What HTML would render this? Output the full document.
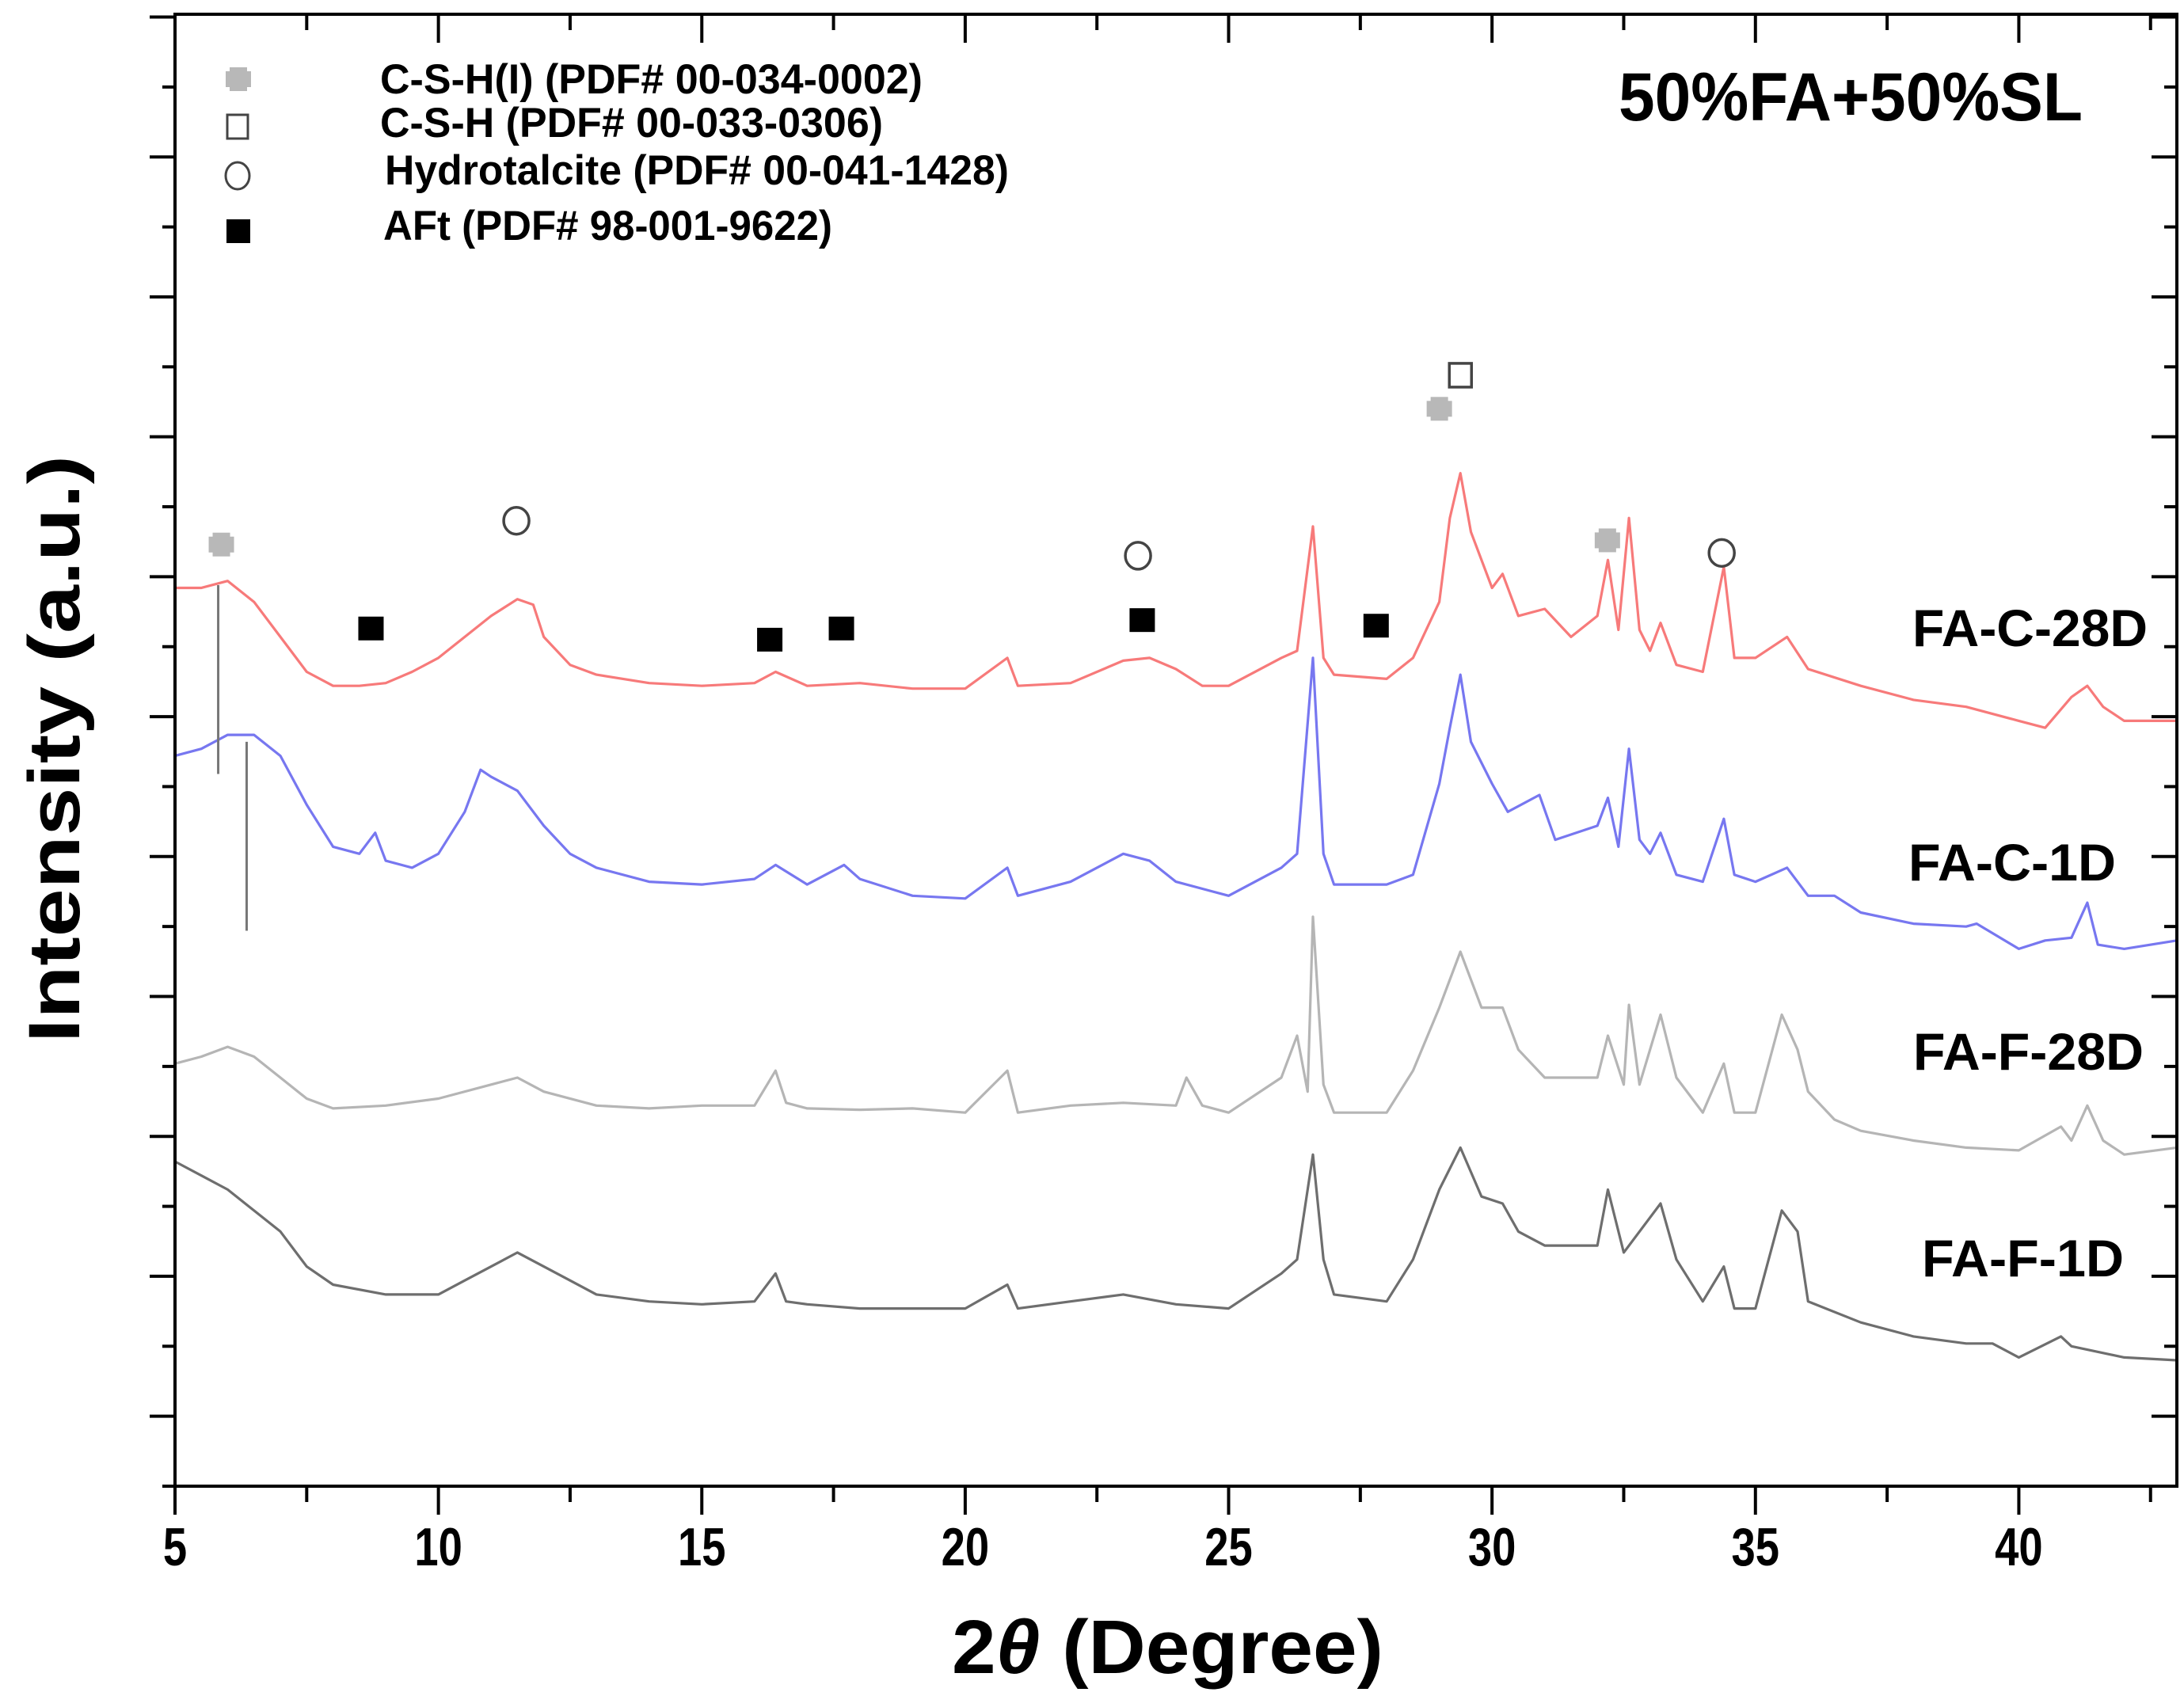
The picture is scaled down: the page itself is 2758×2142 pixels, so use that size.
<!DOCTYPE html>
<html><head><meta charset="utf-8"><style>
html,body{margin:0;padding:0;background:#fff;}
svg{display:block;}
text{font-family:"Liberation Sans",sans-serif;font-weight:bold;fill:#000;}
</style></head><body>
<svg id="chart" width="2758" height="2142" viewBox="0 0 2758 2142" xmlns="http://www.w3.org/2000/svg">
<g id="series"></g>
<g id="markers"></g>
<g id="axes"></g>
<g>
  <g>
    <g fill="#b8b8b8"><rect x="290" y="85" width="22" height="30"/><rect x="285" y="90" width="32" height="20"/></g>
    <text x="480" y="118" font-size="53" textLength="685" lengthAdjust="spacingAndGlyphs">C-S-H(I) (PDF# 00-034-0002)</text>
  </g>
  <g>
    <rect x="287" y="145" width="26" height="30" fill="none" stroke="#444" stroke-width="3"/>
    <text x="480" y="173" font-size="53" textLength="635" lengthAdjust="spacingAndGlyphs">C-S-H (PDF# 00-033-0306)</text>
  </g>
  <g>
    <ellipse cx="300" cy="222" rx="15" ry="17" fill="none" stroke="#444" stroke-width="3"/>
    <text x="486" y="233" font-size="53" textLength="788" lengthAdjust="spacingAndGlyphs">Hydrotalcite (PDF# 00-041-1428)</text>
  </g>
  <g>
    <rect x="286" y="277" width="30" height="30" fill="#000"/>
    <text x="484" y="303" font-size="53" textLength="567" lengthAdjust="spacingAndGlyphs">AFt (PDF# 98-001-9622)</text>
  </g>
</g>
<text x="2044" y="152" font-size="86" textLength="586" lengthAdjust="spacingAndGlyphs">50%FA+50%SL</text>
<text x="2415" y="816" font-size="66" textLength="297" lengthAdjust="spacingAndGlyphs">FA-C-28D</text>
<text x="2410" y="1112" font-size="66" textLength="262" lengthAdjust="spacingAndGlyphs">FA-C-1D</text>
<text x="2416" y="1351" font-size="66" textLength="291" lengthAdjust="spacingAndGlyphs">FA-F-28D</text>
<text x="2427" y="1612" font-size="66" textLength="255" lengthAdjust="spacingAndGlyphs">FA-F-1D</text>
<text transform="translate(100,946) rotate(-90)" text-anchor="middle" font-size="92" textLength="742" lengthAdjust="spacingAndGlyphs">Intensity (a.u.)</text>
<text x="1202" y="2113" font-size="96" textLength="545" lengthAdjust="spacingAndGlyphs">2<tspan font-style="italic">θ</tspan> (Degree)</text>
</svg>
<script>
// ---- data ----
const xTicks = [5,10,15,20,25,30,35,40];
const xTickLabels = ["5","10","15","20","25","30","35","40"];
const seriesNames = ["FA-C-28D","FA-C-1D","FA-F-28D","FA-F-1D"];
const seriesColors = ["#f77a7a","#7777f0","#b5b5b5","#6e6e6e"];
const redX = [5,5.5,6,6.5,7,7.5,8,8.5,9,9.5,10,10.5,11,11.5,11.8,12,12.5,13,14,15,16,16.4,17,18,19,20,20.8,21,22,23,23.5,24,24.5,25,26,26.3,26.6,26.8,27,28,28.5,29,29.2,29.4,29.6,30,30.2,30.5,31,31.5,32,32.2,32.4,32.6,32.8,33,33.2,33.5,34,34.4,34.6,35,35.6,36,37,38,39,40,40.5,41,41.3,41.6,42,43];
const redY = [642,642,647,632,607,582,572,572,574,582,592,607,622,634,630,607,587,580,574,572,574,582,572,574,570,570,592,572,574,590,592,584,572,572,592,597,686,592,580,577,592,632,692,724,682,642,652,622,627,607,622,662,612,692,612,597,617,587,582,657,592,592,607,584,572,562,557,547,542,564,572,557,547,547];
const blueX = [5,5.5,6,6.5,7,7.5,8,8.5,8.8,9,9.5,10,10.5,10.8,11,11.5,12,12.5,13,14,15,16,16.4,17,17.7,18,19,20,20.8,21,22,23,23.5,24,25,26,26.3,26.6,26.8,27,28,28.5,29,29.2,29.4,29.6,30,30.3,30.9,31.2,32,32.2,32.4,32.6,32.8,33,33.2,33.5,34,34.4,34.6,35,35.6,36,36.5,37,38,39,39.2,40,40.5,41,41.3,41.5,42,43];
const blueY = [522,527,537,537,522,487,457,452,467,447,442,452,482,512,507,497,472,452,442,432,430,434,444,430,444,434,422,420,442,422,432,452,447,432,422,442,452,592,452,430,430,437,502,542,580,532,502,482,494,462,472,492,457,527,462,452,467,437,432,477,437,432,442,422,422,410,402,400,402,384,390,392,417,387,384,390];
const lgrayX = [5,5.5,6,6.5,7,7.5,8,9,10,11,11.5,12,13,14,15,16,16.4,16.6,17,18,19,20,20.8,21,22,23,24,24.2,24.5,25,26,26.3,26.5,26.6,26.8,27,28,28.5,29,29.4,29.8,30.2,30.5,31,32,32.2,32.5,32.6,32.8,33.2,33.5,34,34.4,34.6,35,35.5,35.8,36,36.5,37,38,39,40,40.8,41,41.3,41.6,42,43];
const lgrayY = [302,307,314,307,292,277,270,272,277,287,292,282,272,270,272,272,297,274,270,269,270,267,297,267,272,274,272,292,272,267,292,322,282,407,287,267,267,297,342,382,342,342,312,292,292,322,287,344,287,337,292,267,302,267,267,337,312,282,262,254,247,242,240,257,247,272,247,237,242];
const dgrayX = [5,5.5,6,6.5,7,7.5,8,9,10,10.5,11,11.5,12,12.5,13,14,15,16,16.4,16.6,17,18,19,20,20.8,21,22,23,24,25,26,26.3,26.6,26.8,27,28,28.5,29,29.4,29.8,30.2,30.5,31,32,32.2,32.5,33.2,33.5,34,34.4,34.6,35,35.5,35.8,36,37,38,39,39.5,40,40.8,41,42,43];
const dgrayY = [232,222,212,197,182,157,144,137,137,147,157,167,157,147,137,132,130,132,152,132,130,127,127,127,144,127,132,137,130,127,152,162,237,162,137,132,162,212,242,207,202,182,172,172,212,167,202,162,132,157,127,127,197,182,132,117,107,102,102,92,107,100,92,90];
const starX = [5.88,29.0,32.19], starY = [673,770,676];
const circleX = [11.48,23.28,34.36], circleY = [690,665,667];
const openSqX = [29.40], openSqY = [794];
const fillSqX = [8.72,16.29,17.65,23.36,27.8], fillSqY = [613,605,613,619,615];
const dropX = [5.82,6.36], dropTop = [644,532], dropBot = [509,397];

// ---- scales ----
const L=221,R=2749,T=18,B=1877, XMIN=5, XMAX=43, YMIN=0, YMAX=1052;
const sx = v => L + (v-XMIN)/(XMAX-XMIN)*(R-L);
const sy = v => B - (v-YMIN)/(YMAX-YMIN)*(B-T);
const NS="http://www.w3.org/2000/svg";
function mk(tag, attrs, parent){const e=document.createElementNS(NS,tag);for(const k in attrs)e.setAttribute(k,attrs[k]);parent.appendChild(e);return e;}

const sg=document.getElementById('series');
const allX=[redX,blueX,lgrayX,dgrayX], allY=[redY,blueY,lgrayY,dgrayY];
const slugs=["fa-c-28d","fa-c-1d","fa-f-28d","fa-f-1d"];
for(let s=0;s<4;s++){
  const pts=allX[s].map((x,i)=>sx(x).toFixed(1)+","+sy(allY[s][i]).toFixed(1)).join(" ");
  const pl=mk('polyline',{points:pts,fill:"none",stroke:seriesColors[s],"stroke-width":3.2,"stroke-linejoin":"round"},sg);
  
  
}
const mg=document.getElementById('markers');
for(let i=0;i<dropX.length;i++){
  const l=mk('line',{x1:sx(dropX[i]),x2:sx(dropX[i]),y1:sy(dropTop[i]),y2:sy(dropBot[i]),stroke:"#777","stroke-width":3},mg);
  
  
}
for(let i=0;i<starX.length;i++){
  const g=mk('g',{fill:"#b8b8b8"},mg);
  
  
  const cx=sx(starX[i]), cy=sy(starY[i]);
  mk('rect',{x:cx-11,y:cy-15,width:22,height:30},g);
  mk('rect',{x:cx-16,y:cy-10,width:32,height:20},g);
}
for(let i=0;i<circleX.length;i++){
  const c=mk('ellipse',{cx:sx(circleX[i]),cy:sy(circleY[i]),rx:16,ry:17,fill:"none",stroke:"#444","stroke-width":3.5},mg);
  
  
}
for(let i=0;i<openSqX.length;i++){
  const r=mk('rect',{x:sx(openSqX[i])-14,y:sy(openSqY[i])-15,width:28,height:30,fill:"none",stroke:"#444","stroke-width":3.5},mg);
  
  
}
for(let i=0;i<fillSqX.length;i++){
  const r=mk('rect',{x:sx(fillSqX[i])-16,y:sy(fillSqY[i])-15,width:32,height:30,fill:"#000"},mg);
  
  
}

// ---- axes ----
const ag=document.getElementById('axes');
const frame=mk('rect',{x:L,y:T,width:R-L,height:B-T,fill:"none",stroke:"#000","stroke-width":4},ag);


for(let v=5; v<=42.5; v+=2.5){
  const major = (v%5===0);
  const x=sx(v);
  mk('line',{x1:x,x2:x,y1:B,y2:B+(major?36:20),stroke:"#000","stroke-width":4},ag);
  mk('line',{x1:x,x2:x,y1:T,y2:T+(major?36:20),stroke:"#000","stroke-width":4},ag);
}
for(let i=0;i<xTicks.length;i++){
  const x=sx(xTicks[i]);
  const t=mk('text',{x:0,y:0,"font-size":68,"text-anchor":"middle",transform:"translate("+x+",1977) scale(0.8,1)"},ag);
  t.textContent=xTickLabels[i];
  
  
}
for(let v=0; v<=1050; v+=50){
  const major=(v%100===50);
  const y=sy(v);
  mk('line',{x1:L,x2:L-(major?32:16),y1:y,y2:y,stroke:"#000","stroke-width":4},ag);
  mk('line',{x1:R,x2:R-(major?32:16),y1:y,y2:y,stroke:"#000","stroke-width":4},ag);
}
</script>
</body></html>
